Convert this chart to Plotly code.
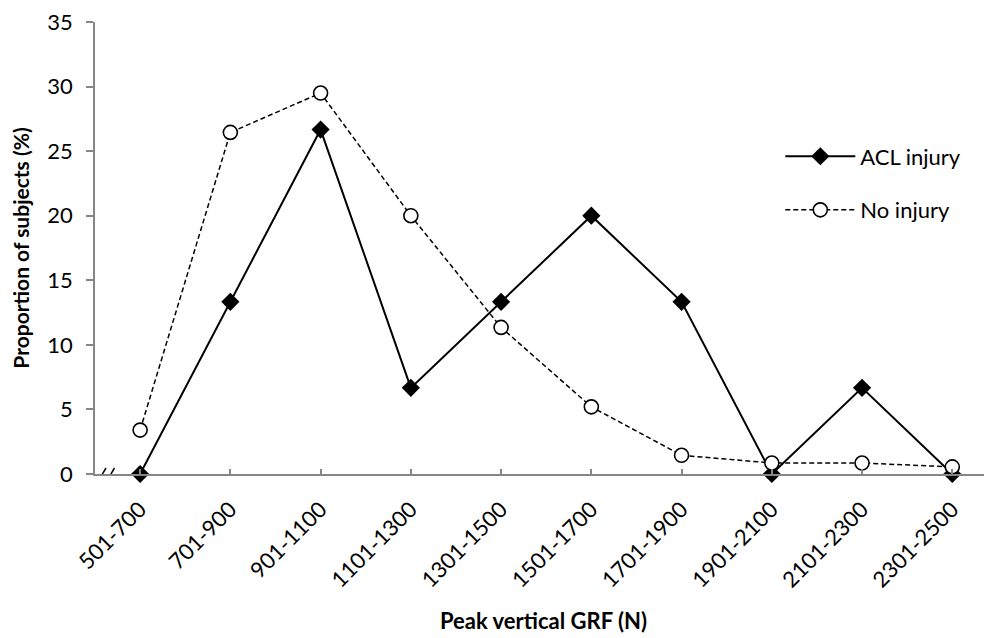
import plotly.graph_objects as go

categories = ["501-700", "701-900", "901-1100", "1101-1300", "1301-1500",
              "1501-1700", "1701-1900", "1901-2100", "2101-2300", "2301-2500"]
acl_injury = [0, 13.33, 26.67, 6.67, 13.33, 20.0, 13.33, 0, 6.67, 0]
no_injury = [3.4, 26.45, 29.5, 20.0, 11.35, 5.2, 1.45, 0.85, 0.85, 0.55]
y_ticks = [0, 5, 10, 15, 20, 25, 30, 35]

FONT = "Lato"
AX = "#868686"

fig = go.Figure()
fig.add_trace(go.Scatter(
    x=categories, y=acl_injury, name="ACL injury", mode="lines+markers",
    legendgroup="acl",
    line=dict(color="black", width=2),
    marker=dict(symbol="diamond", size=14, color="black"),
    cliponaxis=False))
fig.add_trace(go.Scatter(
    x=categories, y=no_injury, name="No injury", mode="lines+markers",
    legendgroup="no",
    line=dict(color="black", width=1.5, dash="5px,3px"),
    marker=dict(symbol="circle", size=14, color="white",
                line=dict(color="black", width=1.6)),
    cliponaxis=False))

fig.update_layout(
    width=984, height=630,
    margin=dict(l=87, r=0, t=12, b=164),
    paper_bgcolor="white", plot_bgcolor="white",
    font=dict(family=FONT, color="black", size=22),
    showlegend=True,
    legend=dict(x=0.764, y=0.749, xanchor="left", yanchor="top",
                bgcolor="rgba(0,0,0,0)", itemwidth=70,
                font=dict(size=22, family=FONT), tracegroupgap=22),
    xaxis=dict(
        type="category", range=[-0.5, 9.44],
        showline=True, linecolor=AX, linewidth=1.5,
        ticks="inside", ticklen=5, tickcolor=AX, tickwidth=1.5,
        tickangle=-45, tickfont=dict(size=22, family=FONT),
        ticklabelstandoff=12, ticklabeloverflow="allow",
        showgrid=False, zeroline=False,
        title=dict(text="<b>Peak vertical GRF (N)</b>", font=dict(size=22, family=FONT), standoff=22),
    ),
    yaxis=dict(
        range=[0, 35], tickvals=y_ticks,
        showline=True, linecolor=AX, linewidth=1.5,
        ticks="outside", ticklen=7, tickcolor=AX, tickwidth=1.5,
        tickfont=dict(size=22, family=FONT),
        ticklabelstandoff=9, ticklabeloverflow="allow",
        showgrid=False, zeroline=False,
        title=dict(text="<b>Proportion of subjects (%)</b>", font=dict(size=21, family=FONT), standoff=12),
    ),
)

# axis break marks
fig.add_shape(type="rect", xref="x", yref="y", xsizemode="pixel", ysizemode="pixel",
              xanchor=-0.417, yanchor=0, x0=1, x1=8, y0=-3, y1=3,
              fillcolor="white", line=dict(width=0), layer="above")
for xa in [-0.417, -0.323]:
    fig.add_shape(type="line", xref="x", yref="y", xsizemode="pixel", ysizemode="pixel",
                  xanchor=xa, yanchor=0, x0=-3.5, x1=3.5, y0=-6, y1=6,
                  line=dict(color="black", width=1.5), layer="above")

fig.write_html("out.html")
